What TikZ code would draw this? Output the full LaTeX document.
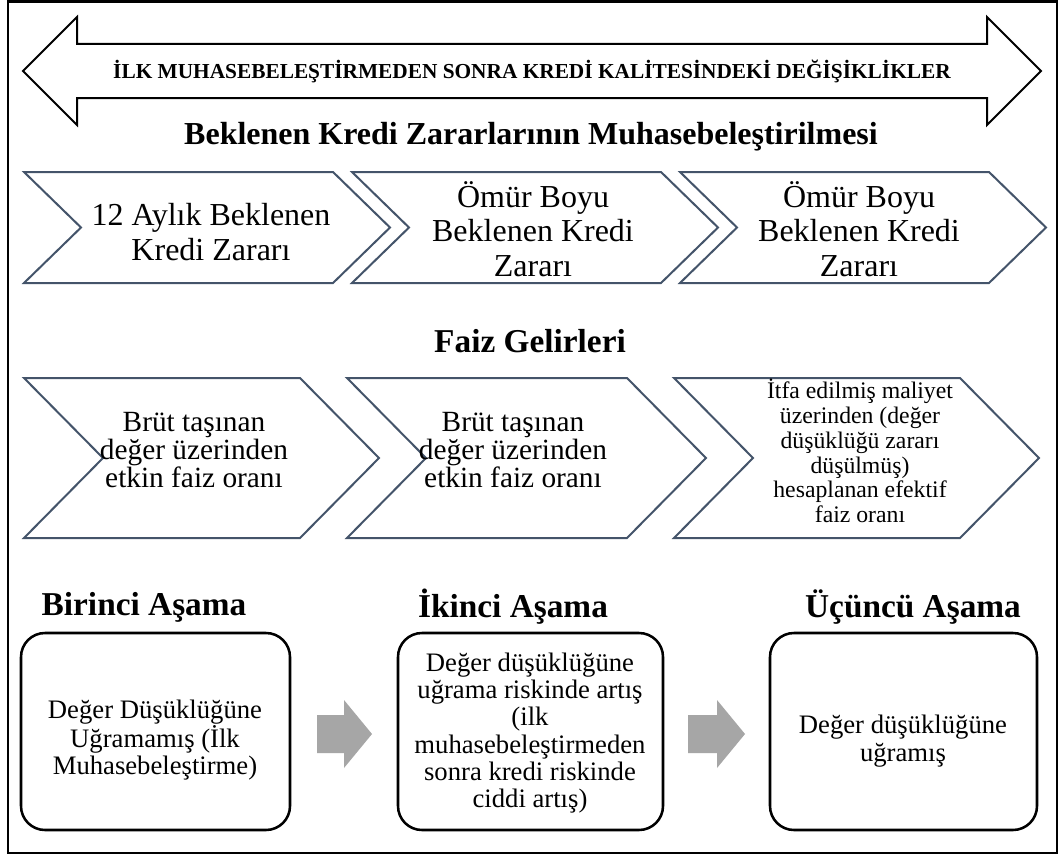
\documentclass[tikz,border=0pt]{standalone}
\usepackage{fontspec}
\setmainfont{Liberation Serif}
\definecolor{chevcol}{HTML}{44546A}
\definecolor{arrgray}{HTML}{A6A6A6}
\newcommand\mychev[5]{% left, top, bottom, width, depth
  \draw[chev] (#1,#2) -- ({#1+#4-#5},#2) -- ({#1+#4},{(#2+#3)/2}) -- ({#1+#4-#5},#3) -- (#1,#3) -- ({#1+#5},{(#2+#3)/2}) -- cycle;}
\begin{document}
\begin{tikzpicture}[x=0.75pt,y=-0.75pt,
  chev/.style={draw=chevcol, line width=1.5pt, line join=miter, fill=white},
  stagebox/.style={draw=black, line width=1.9pt, rounded corners=18pt},
  frame/.style={draw=black, line width=1.9pt},
  bigarrow/.style={draw=black, line width=1.5pt, line join=miter, fill=white},
  grayarrow/.style={fill=arrgray, draw=none},
  title/.style={font=\fontsize{24}{28}\selectfont\bfseries, inner sep=0pt},
  stitle/.style={font=\fontsize{25}{28}\selectfont\bfseries, inner sep=0pt},
  t1/.style={font=\fontsize{24}{26}\selectfont, align=center, inner sep=0pt},
  t2/.style={font=\fontsize{22}{16.5}\selectfont, align=center, inner sep=0pt},
  t3/.style={font=\fontsize{17.8}{18.6}\selectfont, align=center, inner sep=0pt},
  tb/.style={font=\fontsize{20}{20.5}\selectfont, align=center, inner sep=0pt}]
\useasboundingbox (0,0) rectangle (1063,856);
\fill[white] (0,0) rectangle (1063,856);
% outer frame
\draw[frame] (8,1.5) rectangle (1057,853);
% double arrow
\draw[bigarrow] (23,71) -- (77,17) -- (77,44) -- (987,44) -- (987,17) -- (1041,71)
  -- (987,125) -- (987,98) -- (77,98) -- (77,125) -- cycle;
\node[font=\fontsize{16}{19}\selectfont\bfseries, inner sep=0pt] (arrtext) at (532,71)
  {İLK MUHASEBELEŞTİRMEDEN SONRA KREDİ KALİTESİNDEKİ DEĞİŞİKLİKLER};
% titles
\node[title] (tbek) at (531,137) {Beklenen Kredi Zararlarının Muhasebeleştirilmesi};
\node[stitle] (tfaiz) at (530,341) {Faiz Gelirleri};
% row 1 chevrons
\mychev{24}{172}{283}{366}{57}
\mychev{352}{172}{283}{366}{57}
\mychev{680}{172}{283}{366}{57}
\node[t1] (r1a) at (211,232) {12 Aylık Beklenen\\Kredi Zararı};
\node[t1] (r1b) at (533,229) {Ömür Boyu\\Beklenen Kredi\\Zararı};
\node[t1] (r1c) at (859,229) {Ömür Boyu\\Beklenen Kredi\\Zararı};
% row 2 chevrons
\mychev{24}{378}{538}{355}{79}
\mychev{347}{378}{538}{359}{79}
\mychev{674}{378}{538}{365}{79}
\node[t2] (r2a) at (194,450) {Brüt taşınan\\değer üzerinden\\etkin faiz oranı};
\node[t2] (r2b) at (513,450) {Brüt taşınan\\değer üzerinden\\etkin faiz oranı};
\node[t3] (r2c) at (860,451) {İtfa edilmiş maliyet\\üzerinden (değer\\düşüklüğü zararı\\düşülmüş)\\hesaplanan efektif\\faiz oranı};
% stage titles
\node[stitle] (s1) at (144,607) {Birinci Aşama};
\node[stitle] (s2) at (513,607) {İkinci Aşama};
\node[stitle] (s3) at (913,607) {Üçüncü Aşama};
% stage boxes
\draw[stagebox] (21,633) rectangle (290,830);
\draw[stagebox] (398,633) rectangle (663,830);
\draw[stagebox] (770,633) rectangle (1037,830);
\node[tb] (b1) at (155,740) {Değer Düşüklüğüne\\Uğramamış (İlk\\Muhasebeleştirme)};
\node[tb] (b2) at (530,733) {Değer düşüklüğüne\\uğrama riskinde artış\\(ilk\\muhasebeleştirmeden\\sonra kredi riskinde\\ciddi artış)};
\node[tb] (b3) at (903,741) {Değer düşüklüğüne\\uğramış};
% gray block arrows
\fill[grayarrow] (317,715) -- (344,715) -- (344,700) -- (372,734) -- (344,768) -- (344,753) -- (317,753) -- cycle;
\fill[grayarrow] (688,715) -- (717,715) -- (717,700) -- (745,734) -- (717,768) -- (717,753) -- (688,753) -- cycle;
\end{tikzpicture}
\end{document}
